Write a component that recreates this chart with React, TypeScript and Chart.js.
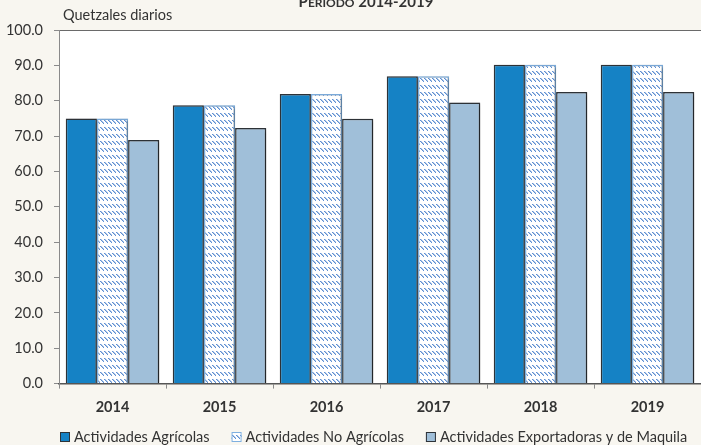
import React, { useEffect, useRef } from "react";
import { Chart, registerables } from "chart.js";

Chart.register(...registerables);

const categories = ["2014", "2015", "2016", "2017", "2018", "2019"];
const agricolas = [74.97, 78.72, 81.87, 86.9, 90.16, 90.16];
const noAgricolas = [74.97, 78.72, 81.87, 86.9, 90.16, 90.16];
const maquila = [68.91, 72.25, 74.89, 79.48, 82.46, 82.46];
const seriesNames = [
  "Actividades Agrícolas",
  "Actividades No Agrícolas",
  "Actividades Exportadoras y de Maquila",
];
const yTitle = "Quetzales diarios";

const FONT = "Lato, 'Liberation Sans', sans-serif";
const BG = "#f8f6f0";
const FS = 14.5;

function makePattern(): CanvasPattern | string {
  const c = document.createElement("canvas");
  c.width = 4;
  c.height = 7;
  const g = c.getContext("2d");
  if (!g) return "#ffffff";
  g.fillStyle = "#ffffff";
  g.fillRect(0, 0, 4, 7);
  g.fillStyle = "#5e8fd2";
  for (let i = 0; i < 4; i++) g.fillRect(i, 1 + i, 1, 1);
  g.fillStyle = "rgba(94,143,210,0.5)";
  for (let i = 0; i < 3; i++) g.fillRect(i + 1, 1 + i, 1, 1);
  const p = g.createPattern(c, "repeat");
  return p || "#ffffff";
}

export default function App() {
  const ref = useRef<HTMLCanvasElement>(null);
  useEffect(() => {
    document.body.style.margin = "0";
    document.body.style.background = BG;
    const canvas = ref.current;
    if (!canvas) return;
    const pattern = makePattern();
    const fills: any[] = ["#1582c5", pattern, "#a0bfd9"];
    const borders = ["#2e3338", "#7fb0e0", "#2e3338"];

    const bgPlugin = {
      id: "bgPlugin",
      beforeDraw(chart: any) {
        const { ctx, chartArea: a } = chart;
        ctx.save();
        ctx.fillStyle = BG;
        ctx.fillRect(0, 0, chart.width, chart.height);
        ctx.fillStyle = "#ffffff";
        ctx.fillRect(a.left, a.top, a.right - a.left, a.bottom - a.top);
        ctx.strokeStyle = "#6a6a6a";
        ctx.lineWidth = 1;
        ctx.beginPath();
        ctx.moveTo(a.left, a.top + 0.5);
        ctx.lineTo(a.right, a.top + 0.5);
        ctx.stroke();
        ctx.restore();
      },
      beforeDatasetsDraw(chart: any) {
        const ctx = chart.ctx;
        ctx.save();
        ctx.shadowColor = "rgba(0,0,0,0.35)";
        ctx.shadowBlur = 3;
        ctx.shadowOffsetX = 2;
        ctx.shadowOffsetY = 1;
      },
      afterDatasetsDraw(chart: any) {
        chart.ctx.restore();
      },
      afterDraw(chart: any) {
        const { ctx } = chart;
        ctx.save();
        ctx.fillStyle = "#333333";
        ctx.textBaseline = "middle";
        ctx.textAlign = "left";
        ctx.font = `${FS}px ${FONT}`;
        ctx.fillText(yTitle, 63, 15);
        // title in small caps
        ctx.textBaseline = "alphabetic";
        const parts: [string, number][] = [
          ["P", 15],
          ["ERIODO", 12],
          [" 2014-2019", 15],
        ];
        let total = 0;
        for (const [t, s] of parts) {
          ctx.font = `bold ${s}px ${FONT}`;
          total += ctx.measureText(t).width;
        }
        let x = 366 - total / 2;
        for (const [t, s] of parts) {
          ctx.font = `bold ${s}px ${FONT}`;
          ctx.fillText(t, x, 7);
          x += ctx.measureText(t).width;
        }
        // custom legend
        ctx.font = `${FS}px ${FONT}`;
        ctx.textBaseline = "middle";
        const box = 10;
        const gapBT = 4;
        const gapItem = 22;
        const widths = seriesNames.map((n) => box + gapBT + ctx.measureText(n).width);
        let lx = 60;
        const ly = 437;
        seriesNames.forEach((n, i) => {
          ctx.fillStyle = fills[i];
          ctx.fillRect(lx, ly - box / 2, box, box);
          ctx.strokeStyle = borders[i];
          ctx.lineWidth = 1;
          ctx.strokeRect(lx + 0.5, ly - box / 2 + 0.5, box - 1, box - 1);
          ctx.fillStyle = "#333333";
          ctx.fillText(n, lx + box + gapBT, ly);
          lx += widths[i] + gapItem;
        });
        ctx.restore();
      },
    };

    const chart = new Chart(canvas, {
      type: "bar",
      data: {
        labels: categories,
        datasets: [
          {
            label: seriesNames[0],
            data: agricolas,
            backgroundColor: fills[0],
            borderColor: borders[0],
            borderWidth: 1.5,
          },
          {
            label: seriesNames[1],
            data: noAgricolas,
            backgroundColor: fills[1],
            borderColor: borders[1],
            borderWidth: 1.5,
          },
          {
            label: seriesNames[2],
            data: maquila,
            backgroundColor: fills[2],
            borderColor: borders[2],
            borderWidth: 1.5,
          },
        ],
      },
      options: {
        animation: false,
        responsive: false,
        devicePixelRatio: 1,
        layout: { padding: { top: 30, left: 0, right: 0, bottom: 19 } },
        datasets: {
          bar: { categoryPercentage: 0.874, barPercentage: 1 },
        },
        scales: {
          x: {
            grid: {
              display: true,
              drawOnChartArea: false,
              drawTicks: true,
              tickLength: 5,
              color: "#8a8a8a",
              offset: true,
            },
            border: { display: true, color: "#555555", width: 1.5 },
            ticks: {
              color: "#333333",
              font: { family: FONT, size: FS, weight: "bold" },
              padding: 10,
            },
          },
          y: {
            min: 0,
            max: 100,
            afterFit(scale: any) {
              scale.width = 59;
            },
            grid: {
              display: true,
              drawOnChartArea: false,
              drawTicks: true,
              tickLength: 5,
              color: "#8a8a8a",
            },
            border: { display: true, color: "#8a8a8a", width: 1 },
            ticks: {
              stepSize: 10,
              color: "#333333",
              padding: 11,
              font: { family: FONT, size: FS },
              callback: (v: any) => Number(v).toFixed(1),
            },
          },
        },
        plugins: {
          legend: { display: false },
          tooltip: { enabled: false },
          title: { display: false },
        },
      },
      plugins: [bgPlugin],
    });
    return () => chart.destroy();
  }, []);
  return (
    <div style={{ width: 701, height: 445, background: BG }}>
      <canvas ref={ref} width={701} height={445} style={{ display: "block" }} />
    </div>
  );
}
